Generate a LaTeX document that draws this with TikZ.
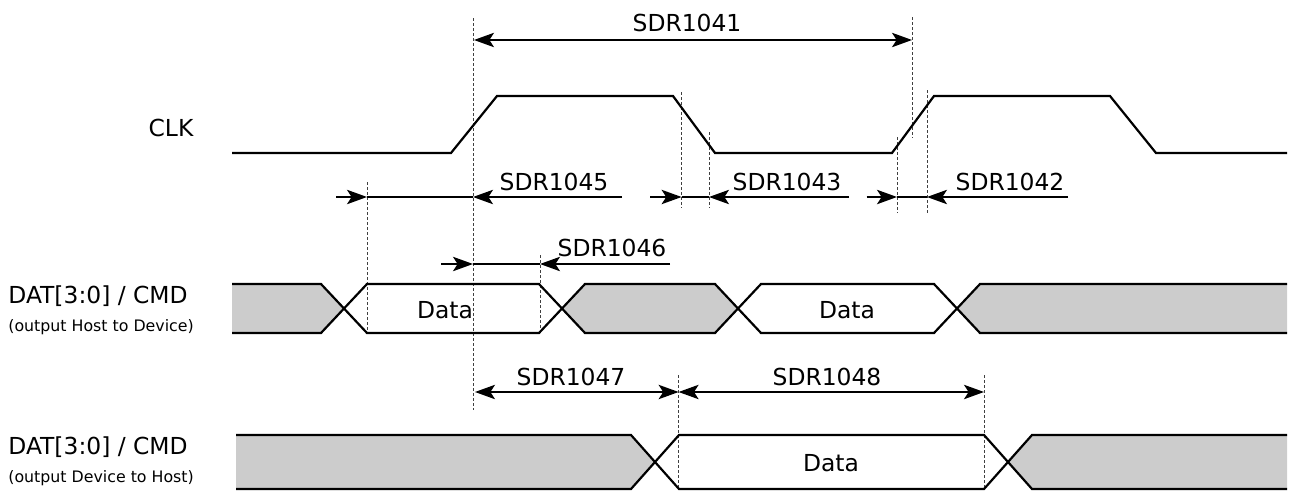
\documentclass[tikz,border=0pt]{standalone}
\usepackage{fontspec}
\setmainfont{DejaVu Sans}
\usetikzlibrary{arrows.meta}
\tikzset{
  sig/.style={line width=1.1pt, line join=miter},
  graybg/.style={fill=black!20, draw=none},
  guide/.style={draw=black!75, line width=0.45pt, dash pattern=on 1.5pt off 1pt},
  dim/.style={line width=0.7pt},
  tipend/.style={-{Stealth[length=10pt,width=7.2pt,inset=2.3pt]}},
  tipboth/.style={{Stealth[length=10pt,width=7.2pt,inset=2.3pt]}-{Stealth[length=10pt,width=7.2pt,inset=2.3pt]}},
  lbl/.style={font=\fontsize{11.7}{14}\selectfont, inner sep=0pt},
  sublbl/.style={font=\fontsize{7.9}{9.5}\selectfont, inner sep=0pt, anchor=west},
}
\begin{document}
\begin{tikzpicture}[x=0.5pt,y=-0.5pt]
\path[use as bounding box] (0,0) rectangle (1292,493);

% coordinates for guides
\coordinate (g1t) at (473,18);   \coordinate (g1b) at (473,410);
\coordinate (g2t) at (912,17);   \coordinate (g2b) at (912,138);
\coordinate (g3t) at (681.6,92); \coordinate (g3b) at (681.6,208);
\coordinate (g4t) at (709,132);  \coordinate (g4b) at (709,208);
\coordinate (g5t) at (897,137);  \coordinate (g5b) at (897,213);
\coordinate (g6t) at (927,90);   \coordinate (g6b) at (927,213);
\coordinate (g7t) at (367,182);  \coordinate (g7b) at (367,333);
\coordinate (g8t) at (540,255);  \coordinate (g8b) at (540,333);
\coordinate (g9t) at (678.6,375);\coordinate (g9b) at (678.6,489);
\coordinate (g10t) at (984,375); \coordinate (g10b) at (984,489);

% gray fills row 1
\fill[graybg] (232,284)--(321,284)--(344,308.5)--(321,333)--(232,333)--cycle;
\fill[graybg] (562,308.5)--(585,284)--(715,284)--(738,308.5)--(715,333)--(585,333)--cycle;
\fill[graybg] (957,308.5)--(980,284)--(1287,284)--(1287,333)--(980,333)--cycle;
% gray fills row 2
\fill[graybg] (236,435)--(631,435)--(655,462)--(631,489)--(236,489)--cycle;
\fill[graybg] (1008,462)--(1032,435)--(1287,435)--(1287,489)--(1032,489)--cycle;

% guides
\foreach \g in {1,...,10} \draw[guide] (g\g t) -- (g\g b);

% CLK
\draw[sig] (232,153) -- (451,153) -- (497,96) -- (673,96) -- (715,153) -- (892,153) -- (934,96) -- (1110,96) -- (1156,153) -- (1287,153);

% row 1
\draw[sig] (232,284)--(321,284)--(367,333)--(539,333)--(585,284)--(715,284)--(761,333)--(934,333)--(980,284)--(1287,284);
\draw[sig] (232,333)--(321,333)--(367,284)--(539,284)--(585,333)--(715,333)--(761,284)--(934,284)--(980,333)--(1287,333);

% row 2
\draw[sig] (236,435)--(631,435)--(679,489)--(984,489)--(1032,435)--(1287,435);
\draw[sig] (236,489)--(631,489)--(679,435)--(984,435)--(1032,489)--(1287,489);

% dimension coordinates
\coordinate (a41l) at (474,40);  \coordinate (a41r) at (912,40);
\coordinate (a45s) at (336,197); \coordinate (a45a) at (367,197); \coordinate (a45b) at (473,197); \coordinate (a45e) at (622,197);
\coordinate (a43s) at (650,197); \coordinate (a43a) at (681.6,197); \coordinate (a43b) at (709,197); \coordinate (a43e) at (849,197);
\coordinate (a42s) at (866.6,197); \coordinate (a42a) at (897,197); \coordinate (a42b) at (927,197); \coordinate (a42e) at (1068,197);
\coordinate (a46s) at (441,264); \coordinate (a46a) at (473,264); \coordinate (a46b) at (540,264); \coordinate (a46e) at (670,264);
\coordinate (a47l) at (475,392); \coordinate (a47r) at (678.6,392);
\coordinate (a48l) at (678.6,392); \coordinate (a48r) at (984,392);

\draw[dim,tipboth] (a41l) -- (a41r);
\draw[dim,tipend] (a45s) -- (a45a); \draw[dim] (a45a) -- (a45b); \draw[dim,tipend] (a45e) -- (a45b);
\draw[dim,tipend] (a43s) -- (a43a); \draw[dim] (a43a) -- (a43b); \draw[dim,tipend] (a43e) -- (a43b);
\draw[dim,tipend] (a42s) -- (a42a); \draw[dim] (a42a) -- (a42b); \draw[dim,tipend] (a42e) -- (a42b);
\draw[dim,tipend] (a46s) -- (a46a); \draw[dim] (a46a) -- (a46b); \draw[dim,tipend] (a46e) -- (a46b);
\draw[dim,tipboth] (a47l) -- (a47r);
\draw[dim,tipboth] (a48l) -- (a48r);

% labels
\node[lbl] (t41) at (687,23) {SDR1041};
\node[lbl] (t45) at (554,182) {SDR1045};
\node[lbl] (t43) at (787,182) {SDR1043};
\node[lbl] (t42) at (1010,182) {SDR1042};
\node[lbl] (t46) at (612,248) {SDR1046};
\node[lbl] (t47) at (571,377) {SDR1047};
\node[lbl] (t48) at (827,377) {SDR1048};

\node[lbl] (clk) at (171,128) {CLK};
\node[lbl, anchor=west] (dat1) at (8,296) {DAT[3:0] / CMD};
\node[sublbl] (sub1) at (8,327) {(output Host to Device)};
\node[lbl, anchor=west] (dat2) at (8,447) {DAT[3:0] / CMD};
\node[sublbl] (sub2) at (8,478) {(output Device to Host)};

\node[lbl] (d1) at (445,310) {Data};
\node[lbl] (d2) at (847,310) {Data};
\node[lbl] (d3) at (831,463) {Data};
\end{tikzpicture}
\end{document}
